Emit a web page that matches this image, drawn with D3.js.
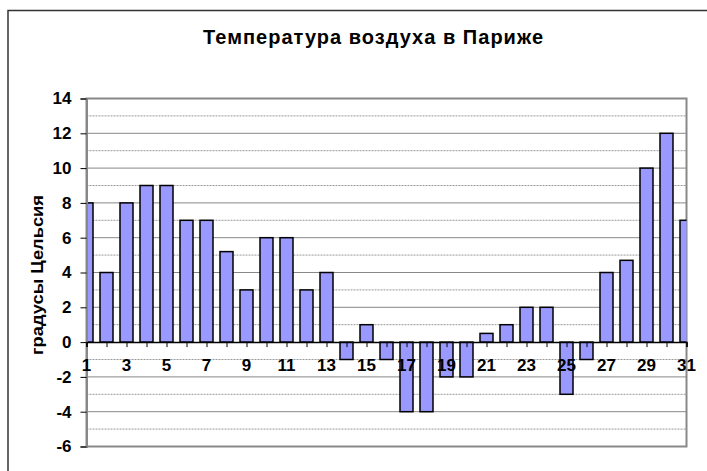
<!DOCTYPE html>
<html>
<head>
<meta charset="utf-8">
<script src="https://cdn.jsdelivr.net/npm/d3@7"></script>
<style>
  body { margin: 0; background: #fff; }
  text { font-family: "Liberation Sans", Arial, sans-serif; font-weight: bold; }
</style>
</head>
<body>
<div id="chart"></div>
<script>
// data
var days = d3.range(1, 32);
var temps = [8, 4, 8, 9, 9, 7, 7, 5.2, 3, 6, 6, 3, 4, -1, 1, -1, -4, -4, -2, -2, 0.5, 1, 2, 2, -3, -1, 4, 4.7, 10, 12, 7];
var yTicks = [-6, -4, -2, 0, 2, 4, 6, 8, 10, 12, 14];
var xLabels = [1, 3, 5, 7, 9, 11, 13, 15, 17, 19, 21, 23, 25, 27, 29, 31];
var title = "Температура воздуха в Париже";
var yTitle = "градусы Цельсия";

var W = 707, H = 471;
var margin = { left: 86.5, right: 20.5, top: 98.5, bottom: 24.5 };
var width = W - margin.left - margin.right;
var height = H - margin.top - margin.bottom;

var svg = d3.select("#chart").append("svg")
    .attr("width", W)
    .attr("height", H);

// outer chart frame
svg.append("rect")
    .attr("x", 8).attr("y", 10.5)
    .attr("width", W + 10).attr("height", H + 10)
    .attr("fill", "none")
    .attr("stroke", "#333")
    .attr("stroke-width", 1.5);

svg.append("text")
    .attr("x", 373).attr("y", 44)
    .attr("text-anchor", "middle")
    .attr("font-size", "20px")
    .attr("textLength", 340)
    .attr("lengthAdjust", "spacing")
    .text(title);

var g = svg.append("g")
    .attr("transform", "translate(" + margin.left + "," + margin.top + ")");

var x = d3.scaleLinear().domain([1, 31]).range([0, width]);
var y = d3.scaleLinear().domain([-6, 14]).range([height, 0]);

g.append("clipPath").attr("id", "plot")
  .append("rect").attr("width", width).attr("height", height);

// gridlines: solid at even, dashed at odd
g.selectAll(".minor")
    .data(d3.range(-5, 14, 2))
  .enter().append("line")
    .attr("x1", 0).attr("x2", width)
    .attr("y1", function(d){ return y(d); })
    .attr("y2", function(d){ return y(d); })
    .attr("stroke", "#999")
    .attr("stroke-dasharray", "2,1");
g.selectAll(".major")
    .data(yTicks.filter(function(d){ return d !== 0; }))
  .enter().append("line")
    .attr("x1", 0).attr("x2", width)
    .attr("y1", function(d){ return y(d); })
    .attr("y2", function(d){ return y(d); })
    .attr("stroke", "#888");

// plot frame
g.append("rect")
    .attr("width", width).attr("height", height)
    .attr("fill", "none")
    .attr("stroke", "#888")
    .attr("stroke-width", 2);

// bars
var barW = 13;
g.append("g").attr("clip-path", "url(#plot)")
  .selectAll("rect")
    .data(temps)
  .enter().append("rect")
    .attr("x", function(d, i){ return x(days[i]) - barW / 2; })
    .attr("y", function(d){ return y(Math.max(0, d)); })
    .attr("width", barW)
    .attr("height", function(d){ return Math.abs(y(d) - y(0)); })
    .attr("fill", "#9999ff")
    .attr("stroke", "#000")
    .attr("stroke-width", 1.5);

// y axis
var yAxis = g.append("g")
    .call(d3.axisLeft(y).tickValues(yTicks).tickSize(6).tickPadding(9)
        .tickFormat(function(d){ return String(d); }));
yAxis.select(".domain").attr("stroke", "#888").attr("stroke-width", 2);
yAxis.selectAll(".tick line").attr("stroke", "#000");
yAxis.selectAll("text")
    .attr("font-size", "17px")
    .attr("font-family", "Liberation Sans, Arial, sans-serif")
    .attr("font-weight", "bold")
    .attr("fill", "#000");

// x axis at zero
var xAxis = g.append("g")
    .attr("transform", "translate(0," + y(0) + ")")
    .call(d3.axisBottom(x).tickValues(days).tickSize(5).tickFormat(""));
xAxis.select(".domain").attr("stroke", "#000").attr("stroke-width", 1.5);
xAxis.selectAll(".tick line").attr("stroke", "#000");

g.append("g").selectAll("text")
    .data(xLabels)
  .enter().append("text")
    .attr("x", function(d){ return x(d); })
    .attr("y", y(0) + 29)
    .attr("text-anchor", "middle")
    .attr("font-size", "17px")
    .text(function(d){ return d; });

// y title
svg.append("text")
    .attr("transform", "translate(43,275) rotate(-90)")
    .attr("text-anchor", "middle")
    .attr("font-size", "16px")
    .attr("textLength", 160)
    .attr("lengthAdjust", "spacingAndGlyphs")
    .text(yTitle);
</script>
</body>
</html>
